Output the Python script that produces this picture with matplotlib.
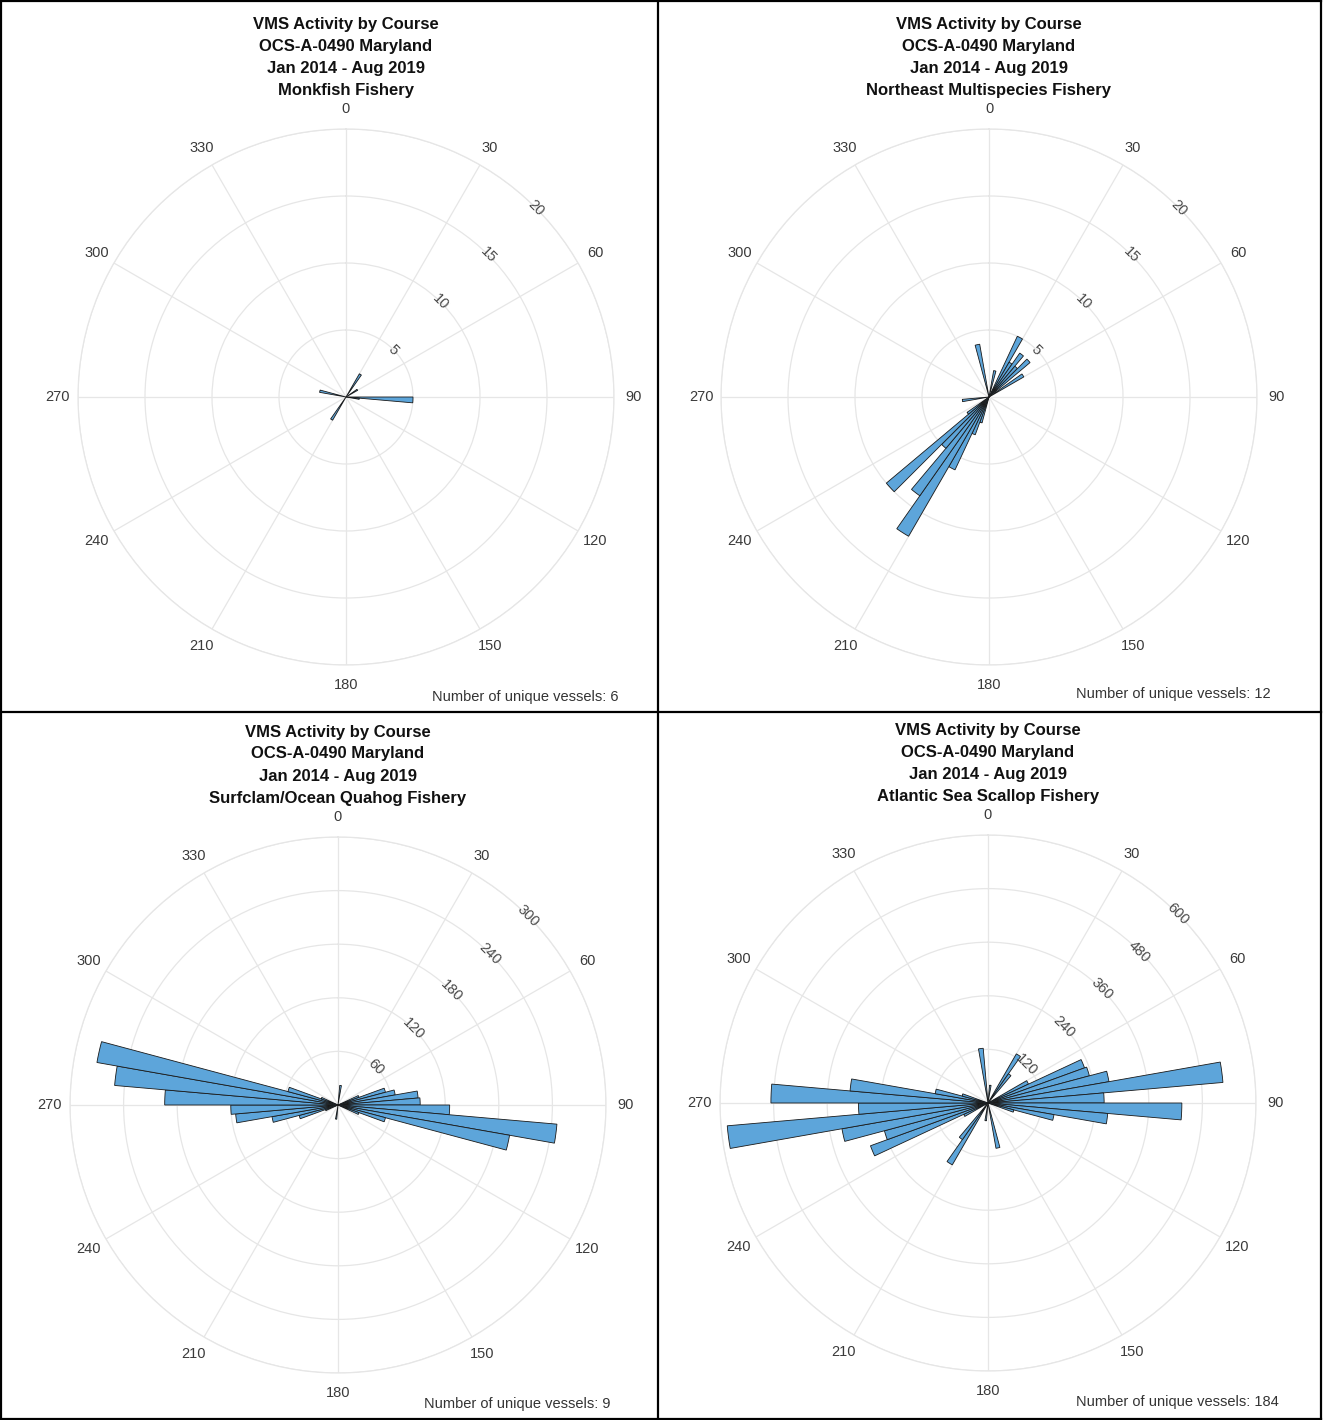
import numpy as np
import matplotlib.pyplot as plt
from matplotlib.lines import Line2D

plt.rcParams['font.family'] = ['Liberation Sans', 'DejaVu Sans']

W, H = 1323, 1420

# course bins are 5 degrees wide; values are counts of VMS pings per bin centre
monk_dirs = [32.5, 57.5, 92.5, 97.5, 212.5, 282.5]
monk_counts = [2, 1, 5, 1, 2, 2]

nemult_dirs = [12.5, 27.5, 32.5, 37.5, 42.5, 47.5, 57.5, 197.5, 202.5, 207.5,
               212.5, 217.5, 222.5, 227.5, 232.5, 262.5, 347.5]
nemult_counts = [2, 5, 3, 4, 3, 4, 3, 2, 3, 6, 12, 9, 5, 10, 2, 2, 4]

clam_dirs = [7.5, 67.5, 72.5, 77.5, 82.5, 87.5, 92.5, 97.5, 102.5, 107.5, 112.5,
             187.5, 247.5, 252.5, 257.5, 262.5, 267.5, 272.5, 277.5, 282.5,
             287.5, 292.5]
clam_counts = [22, 25, 55, 65, 90, 92, 125, 246, 195, 55, 25,
               16, 15, 45, 75, 115, 120, 194, 251, 274, 58, 20]

scallop_dirs = [7.5, 32.5, 37.5, 62.5, 67.5, 72.5, 77.5, 82.5, 87.5, 92.5, 97.5,
                102.5, 107.5, 167.5, 187.5, 212.5, 217.5, 242.5, 247.5, 252.5,
                257.5, 262.5, 267.5, 272.5, 277.5, 282.5, 287.5, 352.5]
scallop_counts = [40, 127, 80, 100, 230, 235, 275, 528, 260, 434, 269,
                  150, 60, 103, 40, 160, 100, 60, 280, 240,
                  332, 586, 290, 486, 310, 120, 60, 123]

fisheries = ['Monkfish Fishery', 'Northeast Multispecies Fishery',
             'Surfclam/Ocean Quahog Fishery', 'Atlantic Sea Scallop Fishery']
vessels = [6, 12, 9, 184]
r_max = [20, 20, 300, 600]
r_step = [5, 5, 60, 120]
theta_ticks = np.arange(0, 360, 30)


def draw_rose(fig, center, dirs, counts, rmax, rstep, fishery, n_vessels,
              title_y, note_xy, radius=268):
    '''Polar histogram of vessel course for one fishery, with its title block.'''
    cx, cy = center
    ax = fig.add_axes([(cx - radius) / W, 1 - (cy + radius) / H,
                       2 * radius / W, 2 * radius / H], projection='polar')
    ax.set_theta_zero_location('N')
    ax.set_theta_direction(-1)
    ax.bar(np.deg2rad(dirs), counts, width=np.deg2rad(5), color='#5da5da',
           edgecolor='#1a1a1a', linewidth=0.6, zorder=3)
    ax.set_ylim(0, rmax)
    rticks = np.arange(rstep, rmax + 1, rstep)
    ax.set_yticks(rticks)
    ax.set_xticks(np.deg2rad(theta_ticks))
    ax.set_yticklabels([])
    ax.set_xticklabels([])
    ax.grid(color='#e6e6e6', linewidth=0.9)
    ax.spines['polar'].set_color('#e6e6e6')
    ax.spines['polar'].set_linewidth(0.9)

    # angle labels centred on a ring just outside the plot edge
    for t in theta_ticks:
        ax.text(np.deg2rad(t), rmax * 288 / radius, str(t), ha='center',
                va='center', fontsize=10.5, color='#3a3a3a', clip_on=False)
    # count labels sit on their rings along the 45 degree spoke
    for r in rticks:
        ax.text(np.deg2rad(45), r, str(r), ha='center', va='center',
                rotation=-45, fontsize=10.5, color='#4a4a4a', zorder=4)

    lines = ['VMS Activity by Course', 'OCS-A-0490 Maryland',
             'Jan 2014 - Aug 2019', fishery]
    for i, line in enumerate(lines):
        fig.text(cx / W, 1 - (title_y + 22 * i) / H, line, ha='center',
                 va='center', fontsize=12, fontweight='bold', color='#111111')
    fig.text(note_xy[0] / W, 1 - note_xy[1] / H,
             'Number of unique vessels: %d' % n_vessels, ha='right',
             va='center', fontsize=10.5, color='#333333')


fig = plt.figure(figsize=(W / 100, H / 100), dpi=100)

draw_rose(fig, (346, 397), monk_dirs, monk_counts, r_max[0], r_step[0],
          fisheries[0], vessels[0], 24, (619, 697))
draw_rose(fig, (989, 397), nemult_dirs, nemult_counts, r_max[1], r_step[1],
          fisheries[1], vessels[1], 25, (1271, 694))
draw_rose(fig, (338, 1105), clam_dirs, clam_counts, r_max[2], r_step[2],
          fisheries[2], vessels[2], 732, (611, 1404))
draw_rose(fig, (988, 1103), scallop_dirs, scallop_counts, r_max[3], r_step[3],
          fisheries[3], vessels[3], 730, (1279, 1402))

# table borders around the four panels
borders = [((1, 1), (1, 1419)), ((1321, 1321), (1, 1419)),
           ((658, 658), (1, 1419)), ((1, 1321), (1, 1)),
           ((1, 1321), (1419, 1419)), ((1, 1321), (712, 712))]
for xs, ys in borders:
    fig.add_artist(Line2D([x / W for x in xs], [1 - y / H for y in ys],
                          transform=fig.transFigure, color='black',
                          linewidth=1.6))

plt.savefig('out.png', dpi=100)
